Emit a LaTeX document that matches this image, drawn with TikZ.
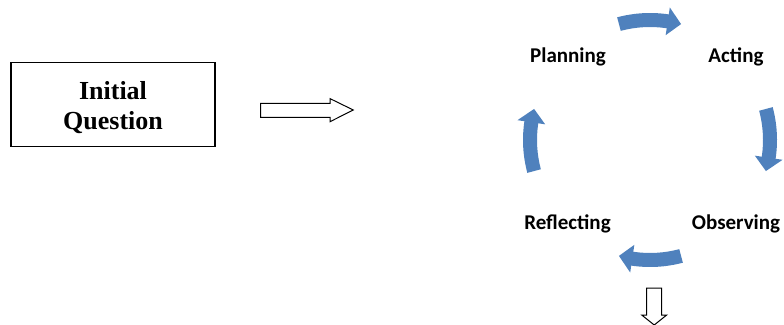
\documentclass[tikz,border=0pt]{standalone}
\usepackage{fontspec}
\setmainfont{Liberation Serif}
\newfontfamily\labelfont{Carlito}
\definecolor{cycleblue}{HTML}{4F81BD}
\tikzset{
  qbox/.style={draw=black, line width=1.4pt, fill=white},
  hollowarrow/.style={draw=black, line width=1pt, fill=white, line join=miter},
  phase/.style={font=\labelfont\bfseries\fontsize{21}{24}\selectfont, anchor=base, inner sep=0pt},
  cyclearrow/.style={fill=cycleblue, draw=none}
}
% curved block arrow on the cycle: #1 start angle, #2 end angle (clockwise)
\newcommand{\cyclearrowpath}[2]{%
  \fill[cyclearrow]
    (#1:127) arc[start angle=#1, end angle=#2+6.5, radius=127]
    -- (#2+6.5:134) -- (#2:120) -- (#2+6.5:106)
    -- (#2+6.5:113) arc[start angle=#2+6.5, end angle=#1, radius=113]
    -- cycle;}
\begin{document}
\begin{tikzpicture}[x=1pt, y=1pt]
  \useasboundingbox (0,0) rectangle (784,324);

  % starting question
  \draw[qbox] (11,177.3) rectangle (215,261.3);
  \node[anchor=base, inner sep=0pt, font=\bfseries\fontsize{26}{30}\selectfont] (initial) at (113,224) {Initial};
  \node[anchor=base, inner sep=0pt, font=\bfseries\fontsize{26}{30}\selectfont] (question) at (113,194) {Question};

  % hollow arrow towards the cycle
  \draw[hollowarrow] (260.7,206.7) -- (330,206.7) -- (330,202.3) -- (353.3,214)
    -- (330,225.4) -- (330,220.7) -- (260.7,220.7) -- cycle;

  % action research cycle
  \begin{scope}[shift={(650,184)}]
    \cyclearrowpath{105}{75}
    \cyclearrowpath{15}{-15}
    \cyclearrowpath{-75}{-105}
    \cyclearrowpath{195}{165}
  \end{scope}

  \node[phase] (planning) at (568,261) {Planning};
  \node[phase] (acting) at (736,261) {Acting};
  \node[phase] (reflecting) at (567.5,94) {Reflecting};
  \node[phase] (observing) at (736,94) {Observing};

  % hollow arrow leaving the cycle
  \draw[hollowarrow] (646.7,36) -- (661.7,36) -- (661.7,9) -- (666.7,9) -- (654.2,-1)
    -- (641.7,9) -- (646.7,9) -- cycle;
\end{tikzpicture}
\end{document}
